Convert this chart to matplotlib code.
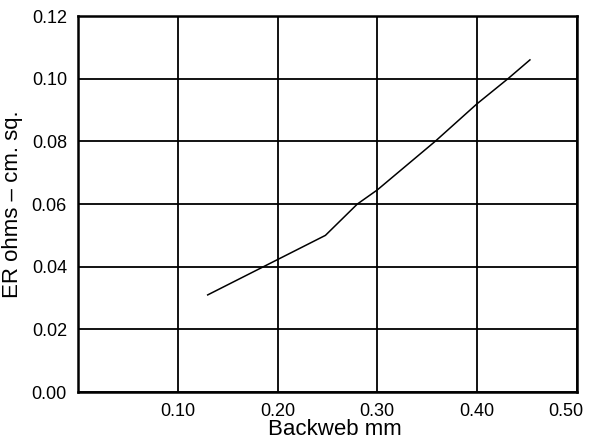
import matplotlib.pyplot as plt
from matplotlib.transforms import ScaledTranslation

# values
backweb = [0.130, 0.248, 0.280, 0.300, 0.358, 0.386, 0.400, 0.431, 0.453]
er = [0.031, 0.050, 0.060, 0.0645, 0.080, 0.088, 0.092, 0.100, 0.106]

x_ticks = [0.10, 0.20, 0.30, 0.40, 0.50]
x_labels = ['0.10', '0.20', '0.30', '0.40', '0.50']
y_ticks = [0.00, 0.02, 0.04, 0.06, 0.08, 0.10, 0.12]
y_labels = ['0.00', '0.02', '0.04', '0.06', '0.08', '0.10', '0.12']

plt.rcParams['font.family'] = ['Liberation Sans', 'DejaVu Sans']

fig = plt.figure(figsize=(5.91, 4.45), dpi=100)
ax = fig.add_axes([0.132, 0.119, 0.844, 0.845])

ax.plot(backweb, er, color='black', linewidth=1.1)

ax.set_xlim(0, 0.5)
ax.set_ylim(0, 0.12)
ax.set_xticks(x_ticks)
ax.set_xticklabels(x_labels)
ax.set_yticks(y_ticks)
ax.set_yticklabels(y_labels)
ax.tick_params(length=0, labelsize=13, pad=8)

# last x label sits a bit left so it stays inside the picture
last = ax.get_xticklabels()[-1]
last.set_transform(last.get_transform() + ScaledTranslation(-8 / 72, 0, fig.dpi_scale_trans))

ax.grid(True, color='black', linewidth=1.3)
for s in ax.spines.values():
    s.set_linewidth(1.8)

ax.set_xlabel('Backweb mm', fontsize=16)
ax.xaxis.set_label_coords(0.515, -0.072)
ax.set_ylabel('ER ohms – cm. sq.', fontsize=16, labelpad=6)

fig.savefig('out.png', dpi=100)
